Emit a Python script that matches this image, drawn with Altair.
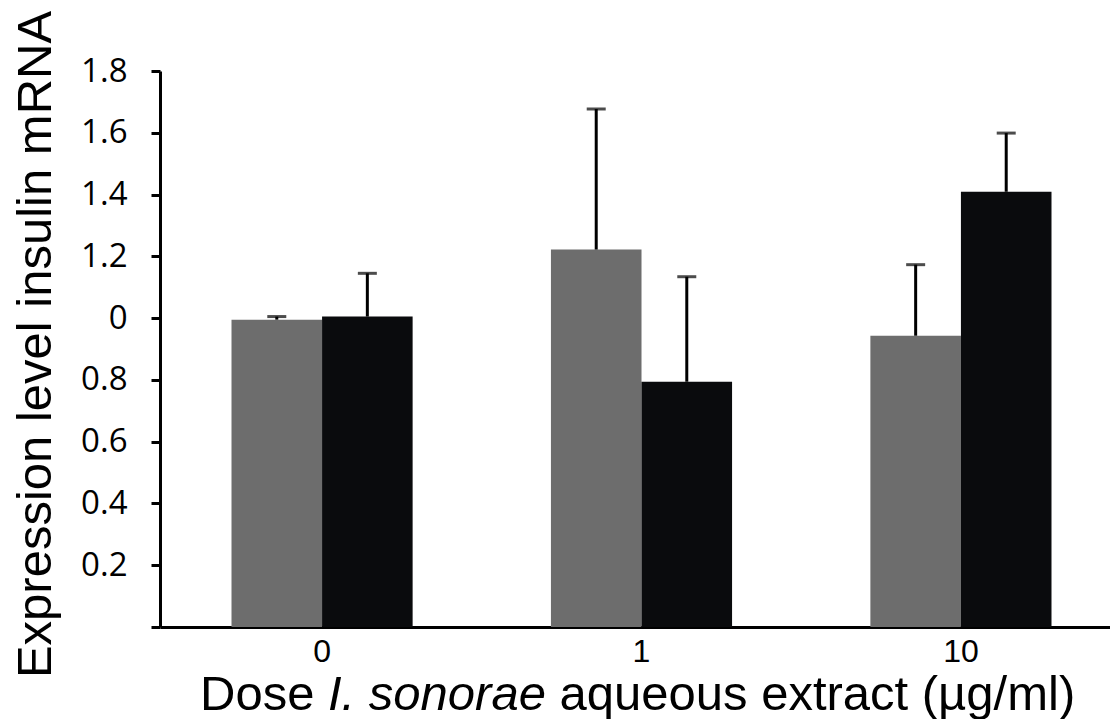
import altair as alt
import pandas as pd

doses = ["0", "1", "10"]
series_names = ["Series 1", "Series 2"]
series1_values = [0.995, 1.222, 0.943]
series1_errors = [0.01, 0.455, 0.23]
series2_values = [1.005, 0.794, 1.409]
series2_errors = [0.14, 0.34, 0.19]
y_ticks = [0, 0.2, 0.4, 0.6, 0.8, 1.0, 1.2, 1.4, 1.6, 1.8]
colors = ["#6d6d6d", "#0a0b0d"]

rows = []
for i, d in enumerate(doses):
    rows.append({"dose": d, "series": series_names[0], "value": series1_values[i],
                 "upper": series1_values[i] + series1_errors[i]})
    rows.append({"dose": d, "series": series_names[1], "value": series2_values[i],
                 "upper": series2_values[i] + series2_errors[i]})
df = pd.DataFrame(rows)

W, H = 950, 556

x_scale = alt.Scale(paddingInner=0.433, paddingOuter=0.2035, align=0.55)
x_axis = alt.Axis(title=None, labelAngle=0, ticks=False, grid=False,
                  labelFont="Liberation Sans", labelFontSize=32, labelPadding=9,
                  labelColor="black", domainColor="black", domainWidth=3)
x_enc = alt.X("dose:N", sort=doses, scale=x_scale, axis=x_axis)
xoff = alt.XOffset("series:N", sort=series_names,
                   scale=alt.Scale(paddingInner=0, paddingOuter=0))

y_scale = alt.Scale(domain=[0, 1.8], nice=False, zero=True)
y_axis = alt.Axis(values=y_ticks, grid=False,
                  labelExpr="datum.value == 0 ? '' : (abs(datum.value - 1) < 1e-9 ? '0' : format(datum.value, '.1f'))",
                  labelFont="Open Sans", labelFontSize=33, labelPadding=24, labelColor="black",
                  tickSize=9, tickWidth=3, tickColor="black",
                  domainColor="black", domainWidth=3,
                  title="Expression level insulin mRNA", titleFont="Liberation Sans",
                  titleFontSize=49, titleFontWeight="normal", titleColor="black",
                  titleAngle=270, titleX=-110, titleY=273, titleAlign="center",
                  titleBaseline="alphabetic")

base = alt.Chart(df)

bars = base.mark_bar().encode(
    x=x_enc,
    xOffset=xoff,
    y=alt.Y("value:Q", scale=y_scale, axis=y_axis),
    color=alt.Color("series:N", sort=series_names,
                    scale=alt.Scale(domain=series_names, range=colors), legend=None),
)

rules = base.mark_rule(color="black", strokeWidth=3).encode(
    x=x_enc, xOffset=xoff, y=alt.Y("value:Q", scale=y_scale, axis=y_axis), y2="upper:Q")

caps = base.mark_tick(color="black", thickness=3, size=19).encode(
    x=x_enc, xOffset=xoff, y=alt.Y("upper:Q", scale=y_scale, axis=y_axis))

# x-axis title with italic species name
fs = 49
t1 = alt.Chart(pd.DataFrame({"t": ["Dose"]})).mark_text(
    align="left", baseline="alphabetic", font="Liberation Sans", fontSize=fs, color="black"
).encode(text="t:N", x=alt.value(40), y=alt.value(639))
t2 = alt.Chart(pd.DataFrame({"t": ["I. sonorae"]})).mark_text(
    align="left", baseline="alphabetic", font="Liberation Sans", fontSize=fs, fontStyle="italic",
    color="black"
).encode(text="t:N", x=alt.value(40 + 2.612 * fs), y=alt.value(639))
t3 = alt.Chart(pd.DataFrame({"t": ["aqueous extract (µg/ml)"]})).mark_text(
    align="left", baseline="alphabetic", font="Liberation Sans", fontSize=fs, color="black"
).encode(text="t:N", x=alt.value(40 + (2.612 + 4.447 + 0.278) * fs), y=alt.value(639))

chart = alt.layer(bars, rules, caps, t1, t2, t3).properties(
    width=W, height=H,
    autosize=alt.AutoSizeParams(type="none"),
    padding={"left": 160, "top": 71, "right": 0, "bottom": 92},
).configure_view(stroke=None)

chart.save("out.html", embed_options={"renderer": "svg", "actions": False})
